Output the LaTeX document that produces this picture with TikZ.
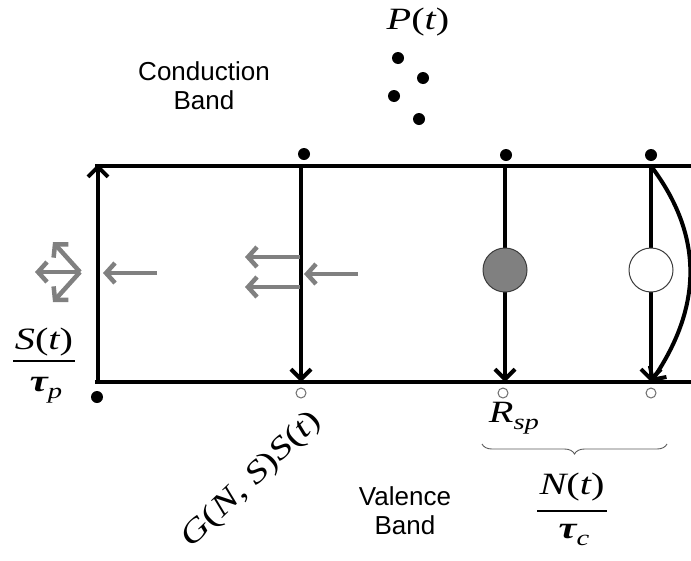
\documentclass[tikz,border=0pt]{standalone}
\usepackage{fontspec}
\setmainfont{Liberation Sans}
\newfontfamily\tnr{Liberation Serif}
\usetikzlibrary{arrows.meta,decorations.pathreplacing}
\newcommand\mvar[1]{{\tnr\itshape #1}}
\newcommand\mrm[1]{{\tnr #1}}
\newcommand\mtau{{\tnr\bfseries\itshape τ}}
\newcommand\wide[1]{\scalebox{1.3}[1]{#1}}
\newcommand\msub[1]{\raisebox{-7pt}{\fontsize{22}{22}\selectfont\mvar{#1}}}
\tikzset{
  band/.style={line width=4pt},
  trans/.style={line width=4pt,-{Straight Barb[length=10pt,width=20pt,line width=4pt]}},
  photon/.style={line width=4.5pt,draw={rgb,255:red,128;green,128;blue,128},-{Straight Barb[length=9pt,width=20pt,line width=4.5pt]}},
  dot/.style={circle,fill=black,inner sep=0pt,minimum size=12pt},
  hole/.style={circle,draw={rgb,255:red,110;green,110;blue,110},line width=1pt,fill=white,inner sep=0pt,minimum size=10pt},
  bigc/.style={circle,draw={rgb,255:red,60;green,60;blue,60},line width=1pt,inner sep=0pt,minimum size=44pt},
  label/.style={font=\fontsize{26}{29}\selectfont,align=center,inner sep=0pt},
  mlabel/.style={font=\fontsize{31}{34}\selectfont,inner sep=0pt},
}
\begin{document}
\begin{tikzpicture}[x=1pt,y=-1pt]
\useasboundingbox (0,0) rectangle (691,560);
% band edges
\coordinate (tl) at (95,166);
\coordinate (tr) at (691,166);
\coordinate (bl) at (95,382);
\coordinate (br) at (691,382);
\draw[band] (tl) -- (tr);
\draw[band] (bl) -- (br);
% left: photon loss
\coordinate (a0) at (98,382);
\coordinate (a1) at (98,164);
\draw[trans] (a0) -- (a1);
\node[dot] (d0) at (97,397) {};
% vertical transitions
\node[dot] (e1) at (304,154) {};
\node[dot] (e2) at (506,155) {};
\node[dot] (e3) at (651,155) {};
\coordinate (t1) at (301,166);
\coordinate (t2) at (505,166);
\coordinate (t3) at (651,166);
\coordinate (b1) at (301,382);
\coordinate (b2) at (505,382);
\coordinate (b3) at (651,382);
\draw[trans] (t1) -- (b1);
\draw[trans] (t2) -- (b2);
\draw[trans] (t3) -- (b3);
\draw[trans] (t3) .. controls (703,235) and (703,305) .. (b3);
\node[hole] (h1) at (301,393) {};
\node[hole] (h2) at (503,393) {};
\node[hole] (h3) at (651,393) {};
\node[bigc,fill={rgb,255:red,128;green,128;blue,128}] (c2) at (505,270) {};
\node[bigc,fill=white] (c3) at (651,270) {};
% photons
\coordinate (p0) at (157,273);
\coordinate (p0e) at (103,273);
\draw[photon] (p0) -- (p0e);
\coordinate (o) at (80,272);
\coordinate (oL) at (35,272);
\coordinate (oU) at (53,242);
\coordinate (oD) at (53,302);
\draw[photon] (o) -- (oL);
\draw[photon] (o) -- (oU);
\draw[photon] (o) -- (oD);
\coordinate (q0) at (358,274);
\coordinate (q0e) at (304,274);
\draw[photon] (q0) -- (q0e);
\coordinate (q1) at (300,257);
\coordinate (q1e) at (245,257);
\coordinate (q2) at (300,287);
\coordinate (q2e) at (245,287);
\draw[photon] (q1) -- (q1e);
\draw[photon] (q2) -- (q2e);
% photon population
\node[mlabel] (P) at (418,22) {\wide{\mvar{P}\mrm{(}\mvar{t}\mrm{)}}};
\node[dot] (pd1) at (398,58) {};
\node[dot] (pd2) at (423,78) {};
\node[dot] (pd3) at (394,96) {};
\node[dot] (pd4) at (419,119) {};
% text
\node[label] (cb) at (204,86) {Conduction\\Band};
\node[label] (vb) at (405,511) {Valence\\Band};
\node[mlabel] (Snum) at (44,342) {\wide{\mvar{S}\mrm{(}\mvar{t}\mrm{)}}};
\draw[line width=2pt] (13,361) -- (75,361);
\node[mlabel] (Sden) at (46,390) {\wide{\mtau\msub{p}}};
\node[mlabel,rotate=44] (G) at (252,480) {\wide{\mvar{G}\mrm{(}\mvar{N}\mrm{, }\mvar{S}\mrm{)}\mvar{S}\mrm{(}\mvar{t}\mrm{)}}};
\node[mlabel] (R) at (514,418) {\wide{\mvar{R}\msub{sp}}};
\draw[draw={rgb,255:red,90;green,90;blue,90},line width=0.9pt,decorate,decoration={brace,mirror,amplitude=10pt}] (482,444) -- (667,444);
\node[mlabel] (Nnum) at (572,487) {\wide{\mvar{N}\mrm{(}\mvar{t}\mrm{)}}};
\draw[line width=2pt] (537,511) -- (607,511);
\node[mlabel] (Nden) at (574,535) {\wide{\mtau\msub{c}}};
\end{tikzpicture}
\end{document}
